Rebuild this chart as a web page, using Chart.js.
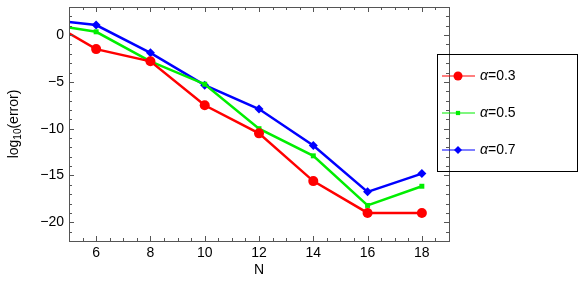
<!DOCTYPE html>
<html>
<head>
<meta charset="utf-8">
<script src="https://cdn.jsdelivr.net/npm/chart.js@4"></script>
<style>
  html, body { margin: 0; padding: 0; background: #fff; }
  canvas { display: block; }
</style>
</head>
<body>
<canvas id="c" width="585" height="287"></canvas>
<script>
var N_VALUES   = [5, 6, 8, 10, 12, 14, 16, 18]
  , ERR_A03    = [0.2, -1.5, -2.8, -7.5, -10.5, -15.6, -19.0, -19.0]
  , ERR_A05    = [0.8, 0.35, -2.8, -5.25, -10.0, -12.9, -18.2, -16.15]
  , ERR_A07    = [1.4, 1.07, -1.9, -5.35, -7.9, -11.8, -16.75, -14.8]
  , X_TICKS    = [6, 8, 10, 12, 14, 16, 18]
  , Y_TICKS    = [0, -5, -10, -15, -20]
  , LABELS     = ["0.3", "0.5", "0.7"]

var FONT = "'Liberation Sans', Arial, sans-serif"

function toPoints(ys) {
  return N_VALUES.map(function(n, i) { return {x: n, y: ys[i]} })
}

var series =
  [ {label: LABELS[0], data: ERR_A03, color: "#ff0000", style: "circle",   r: 5}
  , {label: LABELS[1], data: ERR_A05, color: "#00ee00", style: "rect",     r: 3.5}
  , {label: LABELS[2], data: ERR_A07, color: "#0000ff", style: "rectRot",  r: 4.5}
  ]

// frame, inward ticks, axis titles and the boxed legend
var framePlugin = {
  id: "frame",
  afterDraw: function(chart) {
    var ctx = chart.ctx
      , a   = chart.chartArea
      , xs  = chart.scales.x
      , ys  = chart.scales.y
    ctx.save()
    ctx.strokeStyle = "#555"
    ctx.lineWidth = 1
    ctx.strokeRect(a.left + 0.5, a.top + 0.5, a.right - a.left, a.bottom - a.top)

    ctx.beginPath()
    for (var v = 5; v <= 19; v += 0.5) {
      var px = Math.round(xs.getPixelForValue(v)) + 0.5
        , len = (v % 2 === 0) ? 5 : 3
      ctx.moveTo(px, a.bottom); ctx.lineTo(px, a.bottom - len)
      ctx.moveTo(px, a.top);    ctx.lineTo(px, a.top + len)
    }
    for (var w = -22; w <= 3; w += 1) {
      var py = Math.round(ys.getPixelForValue(w)) + 0.5
        , ln = (w % 5 === 0) ? 5 : 3
      ctx.moveTo(a.left, py);  ctx.lineTo(a.left + ln, py)
      ctx.moveTo(a.right, py); ctx.lineTo(a.right - ln, py)
    }
    ctx.stroke()

    // axis titles
    ctx.fillStyle = "#000"
    ctx.textBaseline = "middle"
    ctx.textAlign = "center"
    ctx.font = "14px " + FONT
    ctx.fillText("N", (a.left + a.right) / 2, 270)

    ctx.save()
    ctx.translate(14, (a.top + a.bottom) / 2)
    ctx.rotate(-Math.PI / 2)
    var p1 = "log", p2 = "10", p3 = "(error)"
    ctx.font = "14px " + FONT
    var w1 = ctx.measureText(p1).width, w3 = ctx.measureText(p3).width
    ctx.font = "10px " + FONT
    var w2 = ctx.measureText(p2).width
    var x0 = -(w1 + w2 + w3) / 2
    ctx.textAlign = "left"
    ctx.font = "14px " + FONT
    ctx.fillText(p1, x0, 0)
    ctx.font = "10px " + FONT
    ctx.fillText(p2, x0 + w1, 4)
    ctx.font = "14px " + FONT
    ctx.fillText(p3, x0 + w1 + w2, 0)
    ctx.restore()

    // legend
    ctx.strokeStyle = "#000"
    ctx.strokeRect(437.5, 54.5, 140, 117)
    series.forEach(function(s, i) {
      var y = 76 + i * 37
      ctx.strokeStyle = s.color
      ctx.globalAlpha = 0.5
      ctx.lineWidth = 2
      ctx.beginPath()
      ctx.moveTo(442, y); ctx.lineTo(475, y)
      ctx.stroke()
      ctx.globalAlpha = 1
      ctx.fillStyle = s.color
      Chart.helpers.drawPoint(ctx, {pointStyle: s.style, radius: s.r - 0.5, borderWidth: 0}, 458, y)
      ctx.fillStyle = "#000"
      ctx.textAlign = "left"
      ctx.font = "italic 14px " + FONT
      ctx.fillText("\u03b1", 480, y)
      var aw = ctx.measureText("\u03b1").width
      ctx.font = "14px " + FONT
      ctx.fillText("=" + s.label, 480 + aw, y)
    })
    ctx.restore()
  }
}

var fmt = function(v) { return v < 0 ? "\u2212" + Math.abs(v) : String(v) }

new Chart(document.getElementById("c"), {
  type: "line",
  data: {
    datasets: series.map(function(s) {
      return { label: s.label
             , data: toPoints(s.data)
             , borderColor: s.color
             , backgroundColor: s.color
             , borderWidth: 2.5
             , pointStyle: s.style
             // the sample at the left frame edge has no visible marker
             , pointRadius: function(c) { return c.dataIndex === 0 ? 0 : s.r }
             , pointBorderWidth: 0
             , tension: 0
             }
    })
  },
  options: {
    responsive: false,
    animation: false,
    layout: {padding: {left: 0, top: 0, right: 136, bottom: 0}},
    plugins: {legend: {display: false}, tooltip: {enabled: false}},
    scales: {
      x: {
        type: "linear", min: 5, max: 19,
        afterBuildTicks: function(s) { s.ticks = X_TICKS.map(function(v) { return {value: v} }) },
        afterFit: function(s) { s.height = 46; s.paddingLeft = 0; s.paddingRight = 0 },
        grid: {display: false, drawTicks: false, tickLength: 0},
        border: {display: false},
        ticks: {color: "#000", font: {family: FONT, size: 14}, padding: 4, maxRotation: 0, callback: fmt}
      },
      y: {
        type: "linear", min: -22, max: 3,
        afterBuildTicks: function(s) { s.ticks = Y_TICKS.map(function(v) { return {value: v} }) },
        afterFit: function(s) { s.width = 69; s.paddingTop = 7; s.paddingBottom = 0 },
        grid: {display: false, drawTicks: false, tickLength: 0},
        border: {display: false},
        ticks: {color: "#000", font: {family: FONT, size: 14}, padding: 5, callback: fmt}
      }
    }
  },
  plugins: [framePlugin]
})
</script>
</body>
</html>
